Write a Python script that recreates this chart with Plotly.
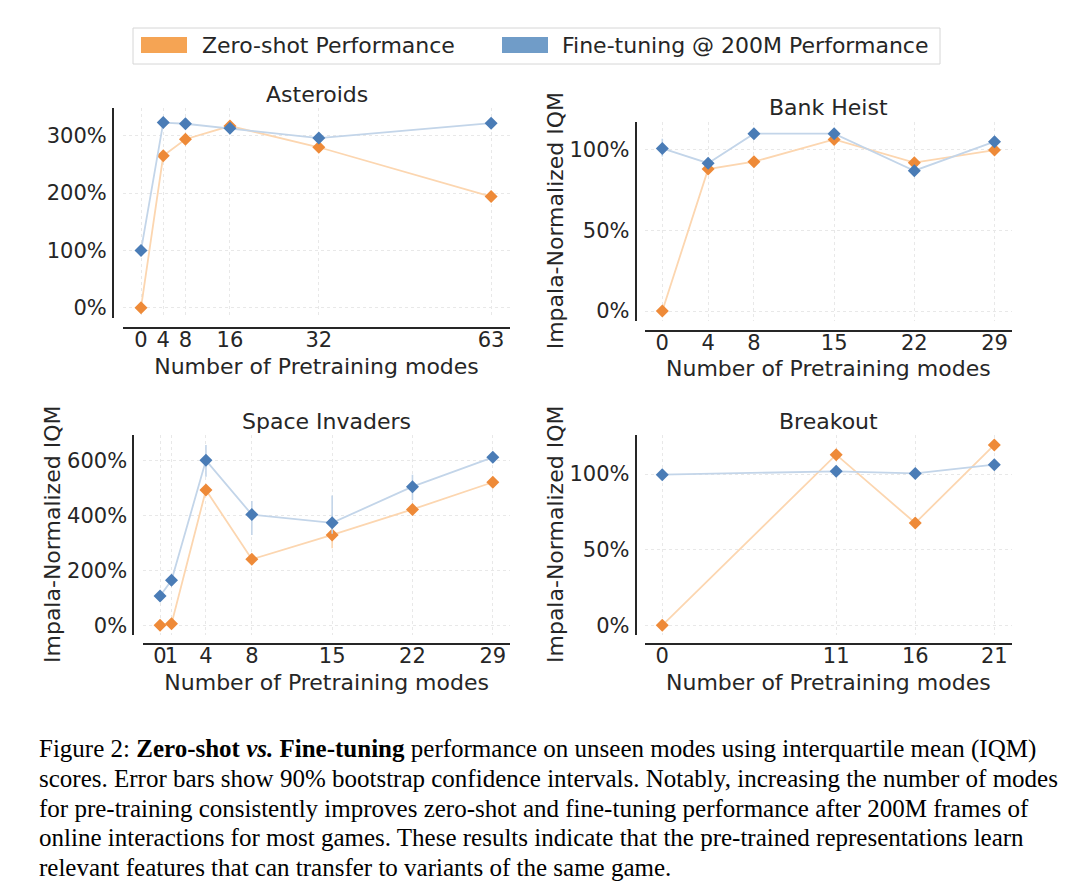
import plotly.graph_objects as go

W, H = 1080, 891
OFF = 8  # the page body adds a default 8px margin around the plot div

# --- data (Impala-normalized IQM, %) ---
asteroids_modes = [0, 4, 8, 16, 32, 63]
asteroids_zero = [0, 265, 294, 317, 280, 194]
asteroids_fine = [100, 323, 321, 313, 296, 322]
asteroids_fine_err = [3, 4, 4, 3, 4, 5]

bank_modes = [0, 4, 8, 15, 22, 29]
bank_zero = [0, 88, 92.6, 106.4, 92, 99.8]
bank_fine = [100.8, 91.7, 110, 110, 87, 105]
bank_fine_err_plus = [6, 2, 2, 2, 2, 2]
bank_fine_err_minus = [5, 2, 2, 2, 2, 2]

space_modes = [0, 1, 4, 8, 15, 22, 29]
space_zero = [0, 6, 494, 241, 330, 423, 522]
space_fine = [107, 164, 602, 404, 374, 506, 613]
space_zero_err_plus = [3, 3, 10, 10, 30, 15, 10]
space_zero_err_minus = [3, 3, 10, 10, 49, 15, 10]
space_fine_err_plus = [8, 10, 56, 50, 100, 43, 10]
space_fine_err_minus = [8, 10, 60, 74, 40, 50, 10]

breakout_modes = [0, 11, 16, 21]
breakout_zero = [0, 112.8, 67.6, 119.2]
breakout_fine = [99.6, 101.8, 100.4, 106.2]

ORANGE = "#EE8A38"
BLUE = "#4A7CB6"
ORANGE_LINE = "#FCD6B0"
BLUE_LINE = "#C3D5E9"
TXT = "#262626"
FONT = "DejaVu Sans"
FS = 22
TICK_FS = 21


def px_x(p):
    return (p - OFF) / W


def px_y(p):
    return 1 - (p - OFF) / H


# panel geometry in pixels: x domain, y domain, x-axis line y, y-axis line x,
# and x position of the rotated y title
panels = [
    dict(title="Asteroids", xd=(123, 510), yd=(108, 318), xl=328, yl=113,
         xr=[-3.24, 66.4], yr=[-18, 348.5], xt=asteroids_modes,
         yt=[0, 100, 200, 300], ytitle="", ytx=0),
    dict(title="Bank Heist", xd=(645, 1011.7), yd=(121.7, 321), xl=330.7, yl=635.7,
         xr=[-1.51, 30.5], yr=[-6.2, 117.4], xt=bank_modes,
         yt=[0, 50, 100], ytitle="Impala-Normalized IQM", ytx=555),
    dict(title="Space Invaders", xd=(143.3, 510), yd=(435, 635), xl=644, yl=133.3,
         xr=[-1.46, 30.5], yr=[-35.4, 694.5], xt=space_modes,
         yt=[0, 200, 400, 600], ytitle="Impala-Normalized IQM", ytx=52),
    dict(title="Breakout", xd=(645, 1011.7), yd=(435, 635), xl=644, yl=635.7,
         xr=[-1.09, 22.1], yr=[-6.4, 125.8], xt=breakout_modes,
         yt=[0, 50, 100], ytitle="Impala-Normalized IQM", ytx=555),
]

series = [
    (asteroids_modes, asteroids_zero, None, None, asteroids_fine,
     asteroids_fine_err, asteroids_fine_err),
    (bank_modes, bank_zero, None, None, bank_fine,
     bank_fine_err_plus, bank_fine_err_minus),
    (space_modes, space_zero, space_zero_err_plus, space_zero_err_minus,
     space_fine, space_fine_err_plus, space_fine_err_minus),
    (breakout_modes, breakout_zero, None, None, breakout_fine, None, None),
]

fig = go.Figure()
annotations = []
shapes = []


def err(plus, minus, color):
    if plus is None:
        return None
    return dict(type="data", array=plus, arrayminus=minus, color=color,
                thickness=1.6, width=0, symmetric=False)


for i, (p, s) in enumerate(zip(panels, series), start=1):
    sfx = "" if i == 1 else str(i)
    xa, ya = "x" + sfx, "y" + sfx
    modes, zero, zp, zm, fine, fp, fm = s

    fig.add_trace(go.Scatter(
        x=modes, y=zero, mode="lines+markers", xaxis=xa, yaxis=ya,
        name="Zero-shot Performance", showlegend=False,
        line=dict(color=ORANGE_LINE, width=1.8),
        marker=dict(symbol="diamond", size=10, color=ORANGE),
        error_y=err(zp, zm, ORANGE_LINE),
    ))
    fig.add_trace(go.Scatter(
        x=modes, y=fine, mode="lines+markers", xaxis=xa, yaxis=ya,
        name="Fine-tuning @ 200M Performance", showlegend=False,
        line=dict(color=BLUE_LINE, width=1.8),
        marker=dict(symbol="diamond", size=10, color=BLUE),
        error_y=err(fp, fm, BLUE_LINE),
    ))

    common = dict(showgrid=True, gridcolor="#E8E8E8", griddash="dot", gridwidth=1,
                  zeroline=False, showline=True, linecolor=TXT, linewidth=2,
                  ticks="", tickfont=dict(family=FONT, size=TICK_FS, color=TXT),
                  anchor="free", automargin=False, tickangle=0)
    fig.layout["xaxis" + sfx] = dict(
        common, domain=[px_x(p["xd"][0]), px_x(p["xd"][1])],
        position=px_y(p["xl"]), range=p["xr"],
        tickvals=p["xt"], ticktext=[str(v) for v in p["xt"]],
        ticklabelstandoff=-7,
        title=dict(text="Number of Pretraining modes", standoff=6,
                   font=dict(family=FONT, size=FS, color=TXT)),
    )
    fig.layout["yaxis" + sfx] = dict(
        common, domain=[px_y(p["yd"][1]), px_y(p["yd"][0])],
        position=px_x(p["yl"]), range=p["yr"],
        tickvals=p["yt"], ticktext=[f"{v}%" for v in p["yt"]],
        ticklabelstandoff=1,
    )
    annotations.append(dict(
        text=p["title"], xref="paper", yref="paper",
        x=px_x((p["xd"][0] + p["xd"][1]) / 2), y=px_y(p["yd"][0] - 14),
        xanchor="center", yanchor="middle", showarrow=False,
        font=dict(family=FONT, size=FS, color=TXT),
    ))
    if p["ytitle"]:
        annotations.append(dict(
            text=p["ytitle"], xref="paper", yref="paper", textangle=-90,
            x=px_x(p["ytx"]), y=px_y((p["yd"][0] + p["yd"][1]) / 2),
            xanchor="center", yanchor="middle", showarrow=False,
            font=dict(family=FONT, size=FS, color=TXT),
        ))

# legend drawn as a box with patches
shapes.append(dict(type="rect", xref="paper", yref="paper",
                   x0=px_x(133), x1=px_x(940), y0=px_y(64), y1=px_y(28),
                   line=dict(color="#D6D6D6", width=1), fillcolor="white"))
legend_items = [("Zero-shot Performance", "#F5A454", 141, 200),
                ("Fine-tuning @ 200M Performance", "#709CC8", 502, 560)]
for label, col, x0, tx in legend_items:
    shapes.append(dict(type="rect", xref="paper", yref="paper",
                       x0=px_x(x0), x1=px_x(x0 + 46), y0=px_y(53), y1=px_y(37),
                       line=dict(width=0), fillcolor=col))
    annotations.append(dict(text=label, xref="paper", yref="paper",
                            x=px_x(tx), y=px_y(45), xanchor="left", yanchor="middle",
                            showarrow=False,
                            font=dict(family=FONT, size=FS, color=TXT)))

# figure caption
caption_lines = [
    "Figure 2: <b>Zero-shot <i>vs.</i> Fine-tuning</b> performance on unseen modes using interquartile mean (IQM)",
    "scores. Error bars show 90% bootstrap confidence intervals. Notably, increasing the number of modes",
    "for pre-training consistently improves zero-shot and fine-tuning performance after 200M frames of",
    "online interactions for most games. These results indicate that the pre-trained representations learn",
    "relevant features that can transfer to variants of the same game.",
]
for k, line in enumerate(caption_lines):
    annotations.append(dict(text=line, xref="paper", yref="paper",
                            x=px_x(37), y=px_y(749 + 29.5 * k),
                            xanchor="left", yanchor="middle", showarrow=False,
                            font=dict(family="Liberation Serif", size=25, color="black")))

fig.update_layout(
    width=W, height=H, margin=dict(l=0, r=0, t=0, b=0, autoexpand=False),
    paper_bgcolor="white", plot_bgcolor="white",
    showlegend=False, annotations=annotations, shapes=shapes,
)

fig.write_html("out.html")
